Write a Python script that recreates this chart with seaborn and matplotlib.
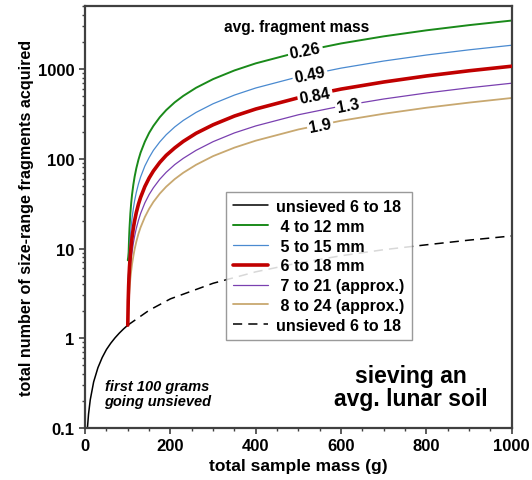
import matplotlib
matplotlib.use("Agg")
import matplotlib.pyplot as plt
import seaborn as sns
from matplotlib.ticker import FixedLocator, MultipleLocator, LogLocator, NullFormatter

sns.set_style("ticks")
plt.rcParams['font.family'] = ['Liberation Sans', 'DejaVu Sans']
plt.rcParams['font.weight'] = 'bold'
plt.rcParams['text.color'] = 'black'
plt.rcParams['axes.labelcolor'] = 'black'

# unsieved first 100 g
unsieved_x = [5.4, 8, 12, 20, 30, 40, 50, 60, 70, 80, 90, 100]
unsieved_y = [0.1, 0.143, 0.206, 0.327, 0.47, 0.61, 0.75, 0.88, 1.01, 1.14, 1.27, 1.40]

# unsieved continuation (dashed)
dashed_x = [100, 150, 200, 300, 400, 500, 600, 700, 800, 900, 1000]
dashed_y = [1.40, 2.05, 2.75, 4.1, 5.5, 6.9, 8.3, 9.7, 11.0, 12.4, 13.8]

# sieved curves
sieve_x = [100, 101, 102, 103, 104, 106, 108, 110, 113, 116, 120, 125, 130, 140, 150,
           160, 175, 190, 210, 230, 260, 300, 350, 400, 500, 600, 700, 800, 900, 1000]
green_y = [7.4, 8.0, 9.1, 13.0, 16.8, 24.5, 32.2, 39.9, 51.4, 63, 78.3, 97.5, 117, 155, 194,
           232, 290, 348, 425, 501, 617, 771, 963, 1155, 1540, 1925, 2309, 2694, 3078, 3463]
blue_y = [4.5, 4.8, 5.5, 7.5, 9.6, 13.6, 17.7, 21.8, 27.9, 34.1, 42.2, 52.4, 62.6, 83, 103,
          124, 154, 185, 226, 267, 328, 410, 512, 614, 818, 1022, 1226, 1430, 1634, 1838]
red_y = [1.40, 2.6, 3.8, 5.0, 6.2, 8.5, 10.9, 13.3, 16.9, 20.4, 25.2, 31.2, 37.1, 49, 61,
         73, 91, 109, 132, 156, 192, 239, 299, 358, 478, 597, 716, 836, 955, 1073]
purple_y = [3.0, 3.1, 3.2, 3.7, 4.5, 6.0, 7.6, 9.1, 11.4, 13.7, 16.8, 20.6, 24.5, 32.2, 39.9,
            47.5, 59.1, 70.6, 86, 101, 124, 155, 194, 232, 309, 386, 463, 540, 617, 694]
tan_y = [2.7, 2.8, 2.9, 3.0, 3.5, 4.6, 5.6, 6.7, 8.2, 9.8, 11.9, 14.6, 17.2, 22.4, 27.7,
         33, 40.9, 48.8, 59.3, 69.8, 85.6, 107, 133, 159, 212, 265, 317, 370, 422, 475]

legend_labels = ['unsieved 6 to 18', ' 4 to 12 mm', ' 5 to 15 mm', ' 6 to 18 mm',
                 ' 7 to 21 (approx.)', ' 8 to 24 (approx.)', 'unsieved 6 to 18']
mass_labels = ['0.26', '0.49', '0.84', '1.3', '1.9']

fig = plt.figure(figsize=(5.32, 4.81), dpi=100)
ax = fig.add_axes([0.16, 0.108, 0.802, 0.877])

sns.lineplot(x=unsieved_x, y=unsieved_y, ax=ax, color='black', lw=1.1, label=legend_labels[0])
sns.lineplot(x=sieve_x, y=green_y, ax=ax, color='#1a8a1a', lw=1.4, label=legend_labels[1])
sns.lineplot(x=sieve_x, y=blue_y, ax=ax, color='#4a8ad0', lw=0.9, label=legend_labels[2])
sns.lineplot(x=sieve_x, y=red_y, ax=ax, color='#c00000', lw=2.6, label=legend_labels[3], zorder=4)
sns.lineplot(x=sieve_x, y=purple_y, ax=ax, color='#7a40b0', lw=0.9, label=legend_labels[4])
sns.lineplot(x=sieve_x, y=tan_y, ax=ax, color='#c8a870', lw=1.3, label=legend_labels[5])
sns.lineplot(x=dashed_x, y=dashed_y, ax=ax, color='black', lw=1.1, label=legend_labels[6])
ax.lines[-1].set_dashes((6, 4))

ax.set_yscale('log')
ax.set_xlim(0, 1000)
ax.set_ylim(0.1, 5000)
ax.xaxis.set_major_locator(MultipleLocator(200))
ax.xaxis.set_minor_locator(MultipleLocator(50))
ax.yaxis.set_major_locator(FixedLocator([0.1, 1, 10, 100, 1000]))
ax.yaxis.set_minor_locator(LogLocator(base=10, subs=range(2, 10)))
ax.yaxis.set_minor_formatter(NullFormatter())
ax.set_yticklabels(['0.1', '1', '10', '100', '1000'])

for s in ax.spines.values():
    s.set_visible(True)
    s.set_color('#404040')
    s.set_linewidth(1.6)
ax.tick_params(which='major', direction='out', length=4, width=1.2, colors='#404040',
               labelcolor='black', labelsize=12)
ax.tick_params(which='minor', direction='out', length=2.5, width=1.0, colors='#404040')
for lab in ax.get_xticklabels() + ax.get_yticklabels():
    lab.set_fontweight('bold')

ax.set_xlabel('total sample mass (g)', fontsize=12.5, fontweight='bold', labelpad=3)
ax.set_ylabel('total number of size-range fragments acquired', fontsize=11.6, fontweight='bold',
              labelpad=3)

# inline labels
ax.text(495, 3000, 'avg. fragment mass', fontsize=11.2, fontweight='bold', ha='center', va='center')
label_pos = [(516, 1590), (527, 860), (539, 505), (617, 390), (551, 234)]
for (lx, ly), txt in zip(label_pos, mass_labels):
    ax.text(lx, ly, txt, fontsize=11.5, fontweight='bold', ha='center', va='center', rotation=11,
            zorder=6, bbox=dict(facecolor='white', edgecolor='none', pad=1.5))

ax.text(169, 0.24, 'first 100 grams\ngoing unsieved', fontsize=10.5, fontweight='bold',
        style='italic', ha='center', va='center', linespacing=1.1)
ax.text(764, 0.29, 'sieving an\navg. lunar soil', fontsize=16.5, fontweight='bold',
        ha='center', va='center', linespacing=1.0)

leg = ax.legend(loc='upper left', bbox_to_anchor=(0.33, 0.56), fontsize=11.5, frameon=True,
                fancybox=False, edgecolor='#888888', framealpha=0.85, handlelength=2.2,
                handletextpad=0.5, labelspacing=0.3, borderpad=0.45, borderaxespad=0)
for t in leg.get_texts():
    t.set_fontweight('bold')
leg.get_frame().set_linewidth(1.0)
leg.set_zorder(7)

fig.savefig('out.png', dpi=100)
